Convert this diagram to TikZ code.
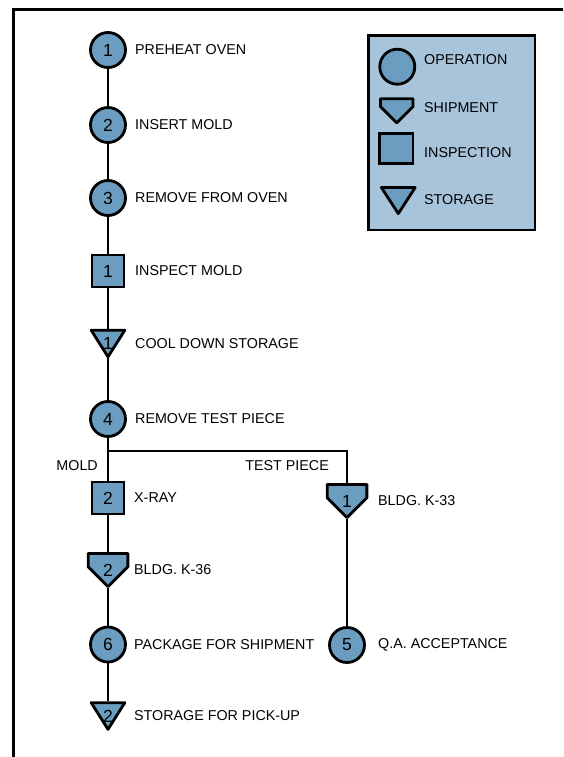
\documentclass[tikz,border=0pt]{standalone}
\usepackage{fontspec}
\setmainfont{Liberation Sans}
\usepackage{tikz}
\usetikzlibrary{shapes,arrows,positioning,calc}

\definecolor{opblue}{RGB}{106,157,192}
\definecolor{keyblue}{RGB}{168,196,218}
\newcommand{\lblfont}{\fontsize{14.3}{16}\selectfont}
\newcommand{\digitfont}{\fontsize{17.5}{20}\selectfont}

\begin{document}
\begin{tikzpicture}[x=1pt, y=-1pt,
        outline/.style={draw, line width=2.8pt, line join=round, fill=opblue},
        op/.style={circle, draw, line width=2.8pt, fill=opblue, minimum size=35pt, inner sep=0pt, font=\digitfont},
        insp/.style={rectangle, draw, line width=2.8pt, fill=opblue, minimum size=32pt, inner sep=0pt, font=\digitfont},
        ship/.style={rectangle, minimum width=42.5pt, minimum height=36pt, inner sep=0pt, font=\digitfont,
            path picture={
                \coordinate (pp-nw) at ([shift={(1.4pt,-1.4pt)}]path picture bounding box.north west);
                \coordinate (pp-ne) at ([shift={(-1.4pt,-1.4pt)}]path picture bounding box.north east);
                \coordinate (pp-s) at ([shift={(0pt,1.4pt)}]path picture bounding box.south);
                \draw[outline] let \p1=(pp-ne), \p2=(pp-s) in
                    (pp-nw) -- (pp-ne) -- (\x1,{\y2+\x1-\x2}) -- (pp-s) -- ({2*\x2-\x1},{\y2+\x1-\x2}) -- cycle;
            }},
        stor/.style={rectangle, minimum width=36.5pt, minimum height=29.5pt, inner sep=0pt, font=\digitfont,
            path picture={
                \draw[outline] ([shift={(1.4pt,-1.4pt)}]path picture bounding box.north west)
                    -- ([shift={(-1.4pt,-1.4pt)}]path picture bounding box.north east)
                    -- ([shift={(0pt,1.4pt)}]path picture bounding box.south) -- cycle;
            }},
        lbl/.style={anchor=west, inner sep=0pt, font=\lblfont},
        flow/.style={line width=2.6pt}]

    \useasboundingbox (0,0) rectangle (563,757);

    % Frame
    \draw[line width=3pt] (13,757) -- (13,10) -- (563,10);

    % Main column
    \node[op] (op1) at (108,50) {1};
    \node[op] (op2) at (108,125) {2};
    \node[op] (op3) at (108,198) {3};
    \node[insp] (insp1) at (108,271) {1};
    \node[stor] (stor1) at (108,343.5) {1};
    \node[op] (op4) at (108,419) {4};
    \coordinate (split) at (108,451);
    \node[insp] (insp2) at (108,498) {2};
    \node[ship] (ship2) at (108,570) {2};
    \node[op] (op6) at (108,644.5) {6};
    \node[stor] (stor2) at (108,716) {2};

    % Test piece column
    \node[ship] (ship1) at (347,501) {1};
    \node[op] (op5) at (347,645) {5};

    % Step labels
    \node[lbl, right=27pt of op1.center] (t-op1) {PREHEAT OVEN};
    \node[lbl, right=27pt of op2.center] (t-op2) {INSERT MOLD};
    \node[lbl, right=27pt of op3.center] (t-op3) {REMOVE FROM OVEN};
    \node[lbl, right=27pt of insp1.center] (t-insp1) {INSPECT MOLD};
    \node[lbl, right=27pt of stor1.center] (t-stor1) {COOL DOWN STORAGE};
    \node[lbl, right=27pt of op4.center] (t-op4) {REMOVE TEST PIECE};
    \node[lbl, right=26pt of insp2.center] (t-insp2) {X-RAY};
    \node[lbl, right=26pt of ship2.center] (t-ship2) {BLDG. K-36};
    \node[lbl, right=26pt of op6.center] (t-op6) {PACKAGE FOR SHIPMENT};
    \node[lbl, right=26pt of stor2.center] (t-stor2) {STORAGE FOR PICK-UP};
    \node[lbl, right=31pt of ship1.center] (t-ship1) {BLDG. K-33};
    \node[lbl, right=31pt of op5.center] (t-op5) {Q.A. ACCEPTANCE};

    % Branch labels
    \node[lbl, anchor=east] (mold) at (98,466) {MOLD};
    \node[lbl, anchor=east] (testpiece) at (329,466) {TEST PIECE};

    % Connectors
    \draw[flow] (op1) -- (op2);
    \draw[flow] (op2) -- (op3);
    \draw[flow] (op3) -- (insp1);
    \draw[flow] (insp1) -- (stor1);
    \draw[flow] (stor1) -- (op4);
    \draw[flow] (op4) -- (insp2);
    \draw[flow] (insp2) -- (ship2);
    \draw[flow] (ship2) -- (op6);
    \draw[flow] (op6) -- (stor2);
    \draw[flow] (split) -| (ship1);
    \draw[flow] (ship1) -- (op5);

    % Legend
    \draw[line width=2.6pt, fill=keyblue] (368.3,35.7) rectangle (535,230);
    \node[op] (key-op) at (397.3,66.7) {};
    \node[ship, minimum width=35.3pt, minimum height=27pt] (key-ship) at (396.7,110.8) {};
    \node[insp, minimum width=33.2pt, minimum height=30.5pt] (key-insp) at (396.3,148.4) {};
    \node[stor, minimum width=36.7pt, minimum height=29pt] (key-stor) at (398.3,200.5) {};
    \node[lbl] (t-key-op) at (424,60) {OPERATION};
    \node[lbl] (t-key-ship) at (424,107.3) {SHIPMENT};
    \node[lbl] (t-key-insp) at (424,152.7) {INSPECTION};
    \node[lbl] (t-key-stor) at (424,200) {STORAGE};
\end{tikzpicture}
\end{document}
